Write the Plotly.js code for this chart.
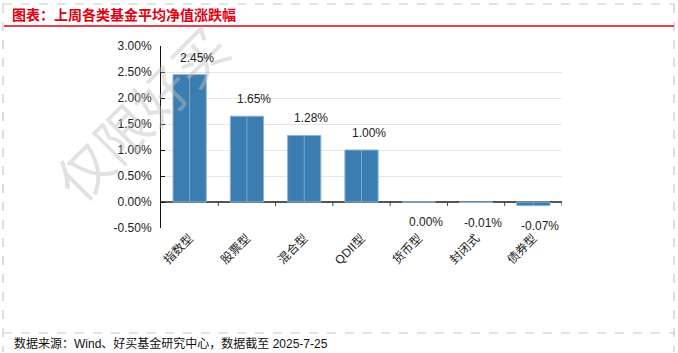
<!DOCTYPE html>
<html><head><meta charset="utf-8">
<script src="https://cdn.plot.ly/plotly-3.0.1.min.js"></script>
<style>html,body{margin:0;padding:0;background:#fff}#chart{width:678px;height:353px}</style>
</head><body><div id="chart"></div>
<script>
const categories = ["指数型","股票型","混合型","QDII型","货币型","封闭式","债券型"];
const values = [2.45, 1.65, 1.28, 1.00, 0.00, -0.01, -0.07];
const yTickVals = [-0.5, 0, 0.5, 1.0, 1.5, 2.0, 2.5, 3.0];
const titleText = "图表：上周各类基金平均净值涨跌幅";
const sourceText = "数据来源：Wind、好买基金研究中心，数据截至 2025-7-25";
const watermarkText = "仅限好买";

const W = 678, H = 353, ML = 161, MR = 116, MT = 46, MB = 125;
const PW = W - ML - MR, PH = H - MT - MB;
const px = v => (v - ML) / PW;
const py = v => (H - MB - v) / PH;
const FONT = "Liberation Sans, Noto Sans CJK SC, sans-serif";

const shapes = [];
// category boundary ticks on the zero line
categories.forEach((c, i) => {
  shapes.push({type:'line', xref:'x', yref:'y', ysizemode:'pixel', yanchor:0,
    x0:i+0.5, x1:i+0.5, y0:0, y1:-4, line:{color:'#444', width:1}});
});
// light centre line inside each bar
values.forEach((v, i) => {
  if (v !== 0) shapes.push({type:'line', xref:'x', yref:'y', x0:i, x1:i, y0:0, y1:v,
    line:{color:'#7aa8cf', width:1}});
});
// frame
const dash = {color:'#c8c8c8', width:1.2, dash:'dash'};
shapes.push({type:'line', xref:'paper', yref:'paper', x0:px(3), x1:px(674), y0:py(4), y1:py(4), line:dash});
shapes.push({type:'line', xref:'paper', yref:'paper', x0:px(3), x1:px(3), y0:py(4), y1:py(352), line:dash});
shapes.push({type:'line', xref:'paper', yref:'paper', x0:px(674), x1:px(674), y0:py(4), y1:py(352), line:dash});
shapes.push({type:'line', xref:'paper', yref:'paper', x0:px(3), x1:px(674), y0:py(333), y1:py(333), line:dash});
shapes.push({type:'line', xref:'paper', yref:'paper', x0:px(4), x1:px(674), y0:py(26), y1:py(26), line:{color:'#e00012', width:1.6}});

const annotations = values.map((v, i) => ({
  x: i, y: v, xref:'x', yref:'y', text: v.toFixed(2) + '%', showarrow:false,
  yanchor: v > 0 ? 'bottom' : 'top', yshift: v > 0 ? 8 : -11, xshift: 7,
  font:{family:FONT, size:12, color:'#222'}
}));
annotations.push({xref:'paper', yref:'paper', x:px(12), y:py(343), xanchor:'left', yanchor:'middle',
  text:sourceText, showarrow:false, font:{family:FONT, size:12, color:'#111'}});
annotations.unshift({xref:'paper', yref:'paper', x:px(140), y:py(112), xanchor:'center', yanchor:'middle',
  text:watermarkText, showarrow:false, textangle:-45,
  font:{family:"Noto Sans CJK SC, sans-serif", size:54, color:'rgba(190,190,190,0.45)'}});

const trace = {
  type:'bar', x:categories.map((c,i)=>i), y:values, width:0.58,
  marker:{color:'#3b7db0', line:{color:'#8db4d4', width:1}},
  hoverinfo:'none'
};

const layout = {
  width:W, height:H, margin:{l:ML, r:MR, t:MT, b:MB},
  paper_bgcolor:'#fff', plot_bgcolor:'rgba(0,0,0,0)', showlegend:false,
  title:{text:titleText, x:12/W, xanchor:'left', xref:'container', y:1-15/H, yanchor:'middle', yref:'container',
    font:{family:"Noto Sans CJK SC, sans-serif", size:14, color:'#e00012', weight:'bold'}},
  xaxis:{tickmode:'array', tickvals:categories.map((c,i)=>i), ticktext:categories, range:[-0.5, 6.5],
    tickangle:-45, showline:false, showgrid:false, zeroline:false, ticks:'',
    tickfont:{family:FONT, size:12, color:'#222'}},
  yaxis:{range:[-0.5, 3.0], tickmode:'array', tickvals:yTickVals, ticktext:yTickVals.map(v=>v.toFixed(2)+'%'),
    showline:true, linecolor:'#111', linewidth:1, ticks:'inside', ticklen:4, tickcolor:'#111',
    ticklabelstandoff:6,
    showgrid:true, gridcolor:'#e6e6e6', gridwidth:1,
    zeroline:true, zerolinecolor:'#555', zerolinewidth:1.2,
    tickfont:{family:FONT, size:12, color:'#222'}},
  shapes:shapes, annotations:annotations, bargap:0.42
};
Plotly.newPlot('chart', [trace], layout, {staticPlot:true, displayModeBar:false});
</script></body></html>
